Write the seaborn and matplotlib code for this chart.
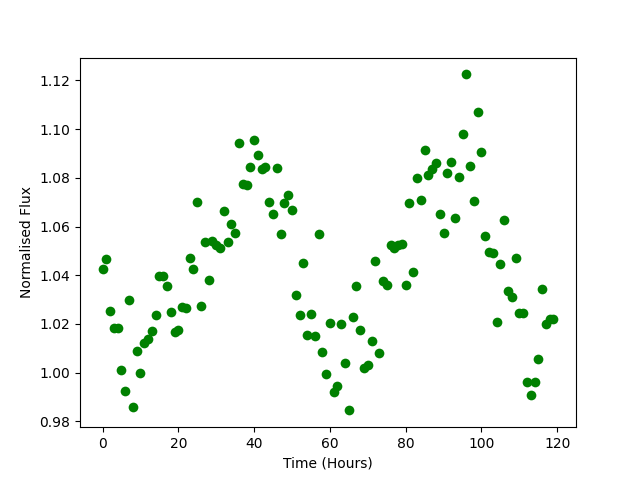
import numpy as np
import pandas as pd
import matplotlib
matplotlib.use("Agg")
import matplotlib.pyplot as plt
import seaborn as sns

# hourly samples
hours = list(range(120))
flux = [
    1.0425, 1.0465, 1.0255, 1.0185, 1.0185, 1.001, 0.9925, 1.030, 0.986, 1.009,
    1.000, 1.012, 1.014, 1.017, 1.0235, 1.0395, 1.0395, 1.0355, 1.025, 1.0165,
    1.0175, 1.027, 1.0265, 1.047, 1.0425, 1.070, 1.0275, 1.0535, 1.038, 1.054,
    1.0525, 1.051, 1.0665, 1.0535, 1.061, 1.0575, 1.0945, 1.0775, 1.077, 1.0845,
    1.0955, 1.0895, 1.0835, 1.0845, 1.070, 1.065, 1.084, 1.057, 1.0695, 1.073,
    1.067, 1.032, 1.0235, 1.045, 1.0155, 1.024, 1.015, 1.057, 1.0085, 0.9995,
    1.0205, 0.992, 0.9945, 1.020, 1.004, 0.9845, 1.023, 1.0355, 1.0175, 1.002,
    1.003, 1.013, 1.046, 1.008, 1.0375, 1.036, 1.0525, 1.051, 1.0525, 1.053,
    1.036, 1.0695, 1.0415, 1.080, 1.071, 1.0915, 1.081, 1.0835, 1.086, 1.065,
    1.0575, 1.082, 1.0865, 1.0635, 1.0805, 1.098, 1.1225, 1.085, 1.0705, 1.107,
    1.0905, 1.056, 1.0495, 1.049, 1.021, 1.0445, 1.0625, 1.0335, 1.031, 1.047,
    1.0245, 1.0245, 0.996, 0.991, 0.996, 1.0055, 1.0345, 1.020, 1.022, 1.022,
]

df = pd.DataFrame({'Time': hours, 'Flux': flux})

fig, ax = plt.subplots(figsize=(6.4, 4.8), dpi=100)
sns.scatterplot(data=df, x='Time', y='Flux', color='green', s=49, linewidth=0, ax=ax)
ax.set_xlabel('Time (Hours)')
ax.set_ylabel('Normalised Flux')

fig.savefig('out.png')
plt.close()
